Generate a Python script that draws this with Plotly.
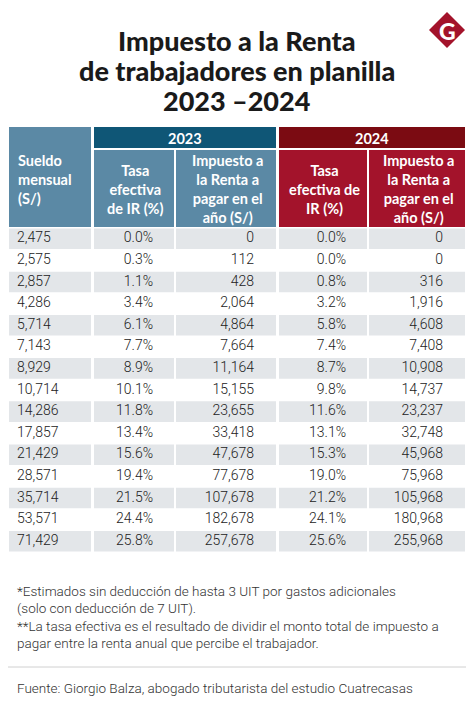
import plotly.graph_objects as go

# ---------------- data ----------------
sueldo = [2475, 2575, 2857, 4286, 5714, 7143, 8929, 10714, 14286, 17857,
          21429, 28571, 35714, 53571, 71429]
tasa_2023 = [0.0, 0.3, 1.1, 3.4, 6.1, 7.7, 8.9, 10.1, 11.8, 13.4,
             15.6, 19.4, 21.5, 24.4, 25.8]
ir_2023 = [0, 112, 428, 2064, 4864, 7664, 11164, 15155, 23655, 33418,
           47678, 77678, 107678, 182678, 257678]
tasa_2024 = [0.0, 0.0, 0.8, 3.2, 5.8, 7.4, 8.7, 9.8, 11.6, 13.1,
             15.3, 19.0, 21.2, 24.1, 25.6]
ir_2024 = [0, 0, 316, 1916, 4608, 7408, 10908, 14737, 23237, 32748,
           45968, 75968, 105968, 180968, 255968]

years = ["2023", "2024"]
col_headers = ["Sueldo<br>mensual<br>(S/)",
               "Tasa<br>efectiva<br>de IR (%)",
               "Impuesto a<br>la Renta a<br>pagar en el<br>año (S/)",
               "Tasa<br>efectiva de<br>IR (%)",
               "Impuesto a<br>la Renta a<br>pagar en el<br>año (S/)"]
title_lines = ["Impuesto a la Renta", "de trabajadores en planilla", "2023 \u20132024"]
notes = ["*Estimados sin deducción de hasta 3 UIT por gastos adicionales",
         "(solo con deducción de 7 UIT).",
         "**La tasa efectiva es el resultado de dividir el monto total de impuesto a",
         "pagar entre la renta anual que percibe el trabajador."]
source = "Fuente: Giorgio Balza, abogado tributarista del estudio Cuatrecasas"

# ---------------- styling / geometry ----------------
W, H = 474, 714
OFF = 8  # page body margin
col_x = [(9, 91), (94, 174), (176, 276), (279, 367), (369, 465)]
row_top, row_h = 228, 21.6
GRAY = "#e3e6e9"
C_SUB23 = "#5b89a5"
C_YEAR23 = "#0f5676"
C_YEAR24 = "#7b0b12"
C_SUB24 = "#a3132b"
TXT = "#222222"
FONT_BODY = "Roboto"
FONT_HEAD = "Lato"

fig = go.Figure()
shapes = []
annotations = []

# header cells
shapes.append(dict(type="rect", x0=col_x[0][0], x1=col_x[0][1], y0=127, y1=227,
                   fillcolor=C_SUB23, line_width=0))
shapes.append(dict(type="rect", x0=col_x[1][0], x1=col_x[2][1], y0=127, y1=148,
                   fillcolor=C_YEAR23, line_width=0))
shapes.append(dict(type="rect", x0=col_x[3][0], x1=col_x[4][1], y0=127, y1=148,
                   fillcolor=C_YEAR24, line_width=0))
for j in (1, 2):
    shapes.append(dict(type="rect", x0=col_x[j][0], x1=col_x[j][1], y0=150, y1=227,
                       fillcolor=C_SUB23, line_width=0))
for j in (3, 4):
    shapes.append(dict(type="rect", x0=col_x[j][0], x1=col_x[j][1], y0=150, y1=227,
                       fillcolor=C_SUB24, line_width=0))

# zebra rows
n = len(sueldo)
for i in range(n):
    if i % 2 == 0:
        y0 = row_top + i * row_h
        for (a, b) in col_x:
            shapes.append(dict(type="rect", x0=a, x1=b, y0=y0 + 0.5, y1=y0 + row_h - 0.5,
                               fillcolor=GRAY, line_width=0, layer="below"))

# header texts
hfont = dict(family=FONT_HEAD, size=14.5, color="white", weight="bold")
annotations.append(dict(x=(col_x[1][0] + col_x[2][1]) / 2, y=138, text=years[0],
                        showarrow=False, font=hfont))
annotations.append(dict(x=(col_x[3][0] + col_x[4][1]) / 2, y=138, text=years[1],
                        showarrow=False, font=hfont))
annotations.append(dict(x=16, y=179, text=col_headers[0], xanchor="left", align="left",
                        showarrow=False, font=hfont))
for j in range(1, 5):
    annotations.append(dict(x=(col_x[j][0] + col_x[j][1]) / 2 + 1,
                            y=189, text=col_headers[j],
                            align="center", showarrow=False, font=hfont))

# data texts
ys = [row_top + (i + 0.5) * row_h for i in range(n)]
dfont = dict(family=FONT_BODY, size=14, color=TXT, weight=300)
fig.add_trace(go.Scatter(x=[17] * n, y=ys, mode="text", textposition="middle right",
                         text=[f"{v:,}" for v in sueldo], textfont=dfont,
                         hoverinfo="skip", showlegend=False))
fig.add_trace(go.Scatter(x=[153] * n, y=ys, mode="text", textposition="middle left",
                         text=[f"{v:.1f}%" for v in tasa_2023], textfont=dfont,
                         hoverinfo="skip", showlegend=False))
fig.add_trace(go.Scatter(x=[254] * n, y=ys, mode="text", textposition="middle left",
                         text=[f"{v:,}" for v in ir_2023], textfont=dfont,
                         hoverinfo="skip", showlegend=False))
fig.add_trace(go.Scatter(x=[346] * n, y=ys, mode="text", textposition="middle left",
                         text=[f"{v:.1f}%" for v in tasa_2024], textfont=dfont,
                         hoverinfo="skip", showlegend=False))
fig.add_trace(go.Scatter(x=[443] * n, y=ys, mode="text", textposition="middle left",
                         text=[f"{v:,}" for v in ir_2024], textfont=dfont,
                         hoverinfo="skip", showlegend=False))

# title
tfont = dict(family=FONT_HEAD, size=27, color="#1a1a1a", weight=900)
for k, line in enumerate(title_lines):
    annotations.append(dict(x=237, y=40 + k * 30, text=line, showarrow=False, font=tfont))

# logo
shapes.append(dict(type="path", path="M 447 12 L 465 30 L 447 48 L 429 30 Z",
                   fillcolor="#a3132b", line_width=0))
annotations.append(dict(x=447, y=31, text="G", showarrow=False,
                        font=dict(family=FONT_HEAD, size=23, color="white", weight=900)))

# footnotes
nfont = dict(family=FONT_BODY, size=13.5, color="#333333", weight=300)
note_y = [591, 608, 626, 643]
for k, line in enumerate(notes):
    annotations.append(dict(x=15, y=note_y[k], text=line, xanchor="left",
                            showarrow=False, font=nfont))
shapes.append(dict(type="line", x0=OFF, x1=W, y0=667, y1=667,
                   line=dict(color="#d0d0d0", width=1)))
annotations.append(dict(x=15, y=688, text=source, xanchor="left",
                        showarrow=False, font=nfont))

fig.update_layout(
    width=W - OFF, height=H - OFF, margin=dict(l=0, r=0, t=0, b=0),
    paper_bgcolor="white", plot_bgcolor="white",
    xaxis=dict(range=[OFF, W], visible=False, fixedrange=True),
    yaxis=dict(range=[H, OFF], visible=False, fixedrange=True),
    shapes=shapes, annotations=annotations, showlegend=False,
)
fig.write_html("out.html", config={"displayModeBar": False})
